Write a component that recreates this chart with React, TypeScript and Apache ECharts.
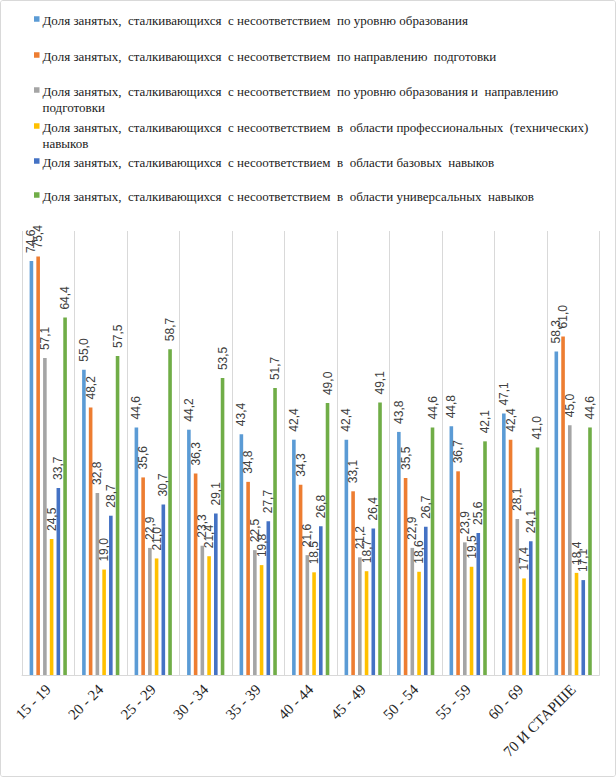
import React, { useEffect, useRef } from "react";
import * as echarts from "echarts";

const categories = ["15 - 19", "20 - 24", "25 - 29", "30 - 34", "35 - 39", "40 - 44", "45 - 49", "50 - 54", "55 - 59", "60 - 69", "70 И СТАРШЕ"];

const seriesNames = [
  "Доля занятых,  сталкивающихся  с несоответствием  по уровню образования",
  "Доля занятых,  сталкивающихся  с несоответствием  по направлению  подготовки",
  "Доля занятых,  сталкивающихся  с несоответствием  по уровню образования и  направлению\nподготовки",
  "Доля занятых,  сталкивающихся  с несоответствием  в  области профессиональных  (технических)\nнавыков",
  "Доля занятых,  сталкивающихся  с несоответствием  в  области базовых  навыков",
  "Доля занятых,  сталкивающихся  с несоответствием  в  области универсальных  навыков",
];

const seriesColors = ["#5B9BD5", "#ED7D31", "#A5A5A5", "#FFC000", "#4472C4", "#70AD47"];

const eduLevel = [74.6, 55.0, 44.6, 44.2, 43.4, 42.4, 42.4, 43.8, 44.8, 47.1, 58.3];
const eduField = [75.4, 48.2, 35.6, 36.3, 34.8, 34.3, 33.1, 35.5, 36.7, 42.4, 61.0];
const eduLevelAndField = [57.1, 32.8, 22.9, 23.3, 22.5, 21.6, 21.2, 22.9, 23.9, 28.1, 45.0];
const profSkills = [24.5, 19.0, 21.0, 21.4, 19.8, 18.5, 18.7, 18.6, 19.5, 17.4, 18.4];
const basicSkills = [33.7, 28.7, 30.7, 29.1, 27.7, 26.8, 26.4, 26.7, 25.6, 24.1, 17.1];
const universalSkills = [64.4, 57.5, 58.7, 53.5, 51.7, 49.0, 49.1, 44.6, 42.1, 41.0, 44.6];

const seriesData = [eduLevel, eduField, eduLevelAndField, profSkills, basicSkills, universalSkills];

const legendLineCenters = [19, 55, 90, 126, 161, 195];

export default function App() {
  const ref = useRef<HTMLDivElement>(null);

  useEffect(() => {
    if (!ref.current) return;
    const chart = echarts.init(ref.current, undefined, { renderer: "svg" });

    const markers = seriesNames.map((_, i) => ({
      type: "rect",
      shape: { x: 33, y: legendLineCenters[i] - 3.8, width: 5.5, height: 5.5 },
      style: { fill: seriesColors[i] },
      silent: true,
    }));

    const legendTitles = seriesNames.map((name, i) => ({
      text: name,
      left: 41.5,
      top: legendLineCenters[i] - 8,
      padding: 0,
      textStyle: {
        fontFamily: "Liberation Serif",
        fontSize: 13,
        fontWeight: "normal",
        color: "#1a1a1a",
        lineHeight: 16,
      },
    }));

    chart.setOption({
      animation: false,
      backgroundColor: "#ffffff",
      title: legendTitles,
      grid: { left: 21, right: 15.6, top: 230, bottom: 101, containLabel: false },
      xAxis: {
        type: "category",
        data: categories,
        axisLine: { show: true, lineStyle: { color: "#d9d9d9", width: 1 } },
        axisTick: { show: false },
        splitLine: { show: true, lineStyle: { color: "#d9d9d9", width: 1 } },
        axisLabel: {
          interval: 0,
          rotate: 45,
          margin: 12,
          color: "#262626",
          fontFamily: "Liberation Serif",
          fontSize: 15,
        },
      },
      yAxis: {
        type: "value",
        min: 0,
        max: 80,
        show: false,
        splitLine: { show: false },
      },
      graphic: markers,
      series: seriesData.map((data, i) => ({
        type: "bar",
        name: seriesNames[i],
        data,
        barWidth: 3.6,
        barGap: "87%",
        itemStyle: { color: seriesColors[i] },
        label: {
          show: true,
          position: "top",
          rotate: 90,
          align: "left",
          verticalAlign: "middle",
          distance: 8,
          color: "#404040",
          fontFamily: "Liberation Sans",
          fontSize: 12,
          formatter: (p: any) => Number(p.value).toFixed(1).replace(".", ","),
        },
      })),
    });

    return () => chart.dispose();
  }, []);

  return (
    <div
      style={{
        position: "fixed",
        left: 0,
        top: 0,
        width: 616,
        height: 777,
        boxSizing: "border-box",
        border: "1px solid #d9d9d9",
        borderRadius: 3,
        background: "#fff",
        overflow: "hidden",
      }}
    >
      <div ref={ref} style={{ width: 614, height: 775 }} />
    </div>
  );
}
